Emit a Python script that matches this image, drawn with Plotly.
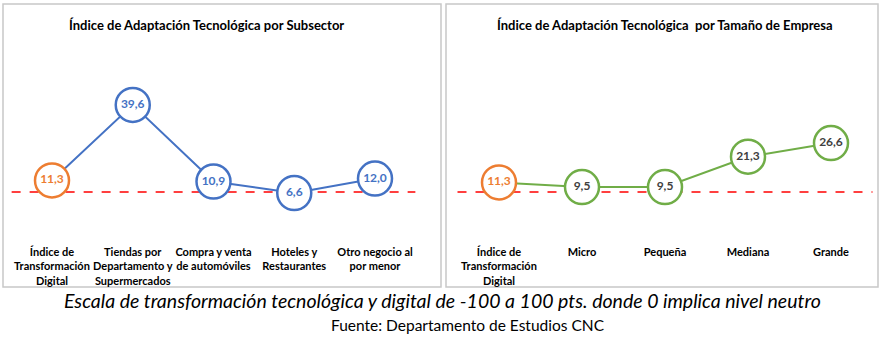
import plotly.graph_objects as go

W, H = 884, 351

# ---- data ----
left_categories = ["Índice de<br>Transformación<br>Digital", "Tiendas por<br>Departamento y<br>Supermercados",
                   "Compra y venta<br>de automóviles", "Hoteles y<br>Restaurantes", "Otro negocio al<br>por menor"]
left_values = [11.3, 39.6, 10.9, 6.6, 12.0]
right_categories = ["Índice de<br>Transformación<br>Digital", "Micro", "Pequeña", "Mediana", "Grande"]
right_values = [11.3, 9.5, 9.5, 21.3, 26.6]
left_reference = 7.0
right_reference = 7.6

left_title = "Índice de Adaptación Tecnológica por Subsector"
right_title = "Índice de Adaptación Tecnológica  por Tamaño de Empresa"
caption = "Escala de transformación tecnológica y digital de -100 a 100 pts. donde 0 implica nivel neutro"
source = "Fuente: Departamento de Estudios CNC"

ORANGE = "#ED7D31"
BLUE = "#4472C4"
GREEN = "#70AD47"
DARK = "#404040"
FONT = "Lato"


def fmt(v):
    return f"{v:.1f}".replace(".", ",")


def px_x(p):
    return p / W


def px_y(p):
    return 1 - p / H


fig = go.Figure()


def add_panel(values, ref, line_color, text_color, xa, ya):
    n = len(values)
    idx = list(range(n))
    fig.add_trace(go.Scatter(x=[-0.5, n - 0.5], y=[ref, ref], mode="lines",
                             line=dict(color="#FF0000", width=1.5, dash="dash"),
                             xaxis=xa, yaxis=ya, hoverinfo="skip", showlegend=False))
    fig.add_trace(go.Scatter(x=idx, y=values, mode="lines",
                             line=dict(color=line_color, width=2),
                             xaxis=xa, yaxis=ya, showlegend=False))
    mcolors = [ORANGE] + [line_color] * (n - 1)
    tcolors = [ORANGE] + [text_color] * (n - 1)
    fig.add_trace(go.Scatter(x=idx, y=values, mode="markers+text",
                             text=[fmt(v) for v in values], textposition="middle center",
                             textfont=dict(family=FONT, size=12, color=tcolors, weight="bold"),
                             marker=dict(size=34, color="white", line=dict(color=mcolors, width=2.5)),
                             xaxis=xa, yaxis=ya, showlegend=False, cliponaxis=False))


add_panel(left_values, left_reference, BLUE, BLUE, "x", "y")
add_panel(right_values, right_reference, GREEN, DARK, "x2", "y2")

plot_top, plot_bot = 40, 240
ydom = [px_y(plot_bot), px_y(plot_top)]

axis_common = dict(showgrid=False, zeroline=False, showline=False, ticks="",
                   tickfont=dict(family=FONT, size=11, color="#000000", weight="bold"))

fig.update_layout(
    width=W, height=H,
    margin=dict(l=0, r=0, t=0, b=0),
    paper_bgcolor="white", plot_bgcolor="white",
    xaxis=dict(domain=[0, px_x(440)], range=[-52 / 80.75, (440 - 52) / 80.75],
               tickmode="array", tickvals=list(range(5)), ticktext=left_categories,
               ticklabelstandoff=4, anchor="y", **axis_common),
    yaxis=dict(domain=ydom, range=[-11.0, 63.9], showticklabels=False, anchor="x", **axis_common),
    xaxis2=dict(domain=[px_x(444), 1], range=[(444 - 499) / 83, (884 - 499) / 83],
                tickmode="array", tickvals=list(range(5)), ticktext=right_categories,
                ticklabelstandoff=4, anchor="y2", **axis_common),
    yaxis2=dict(domain=ydom, range=[-11.1, 66.7], showticklabels=False, anchor="x2", **axis_common),
    showlegend=False,
)

# panel frames
for x0, x1 in [(3, 441), (446, 878)]:
    fig.add_shape(type="rect", xref="paper", yref="paper",
                  x0=px_x(x0), x1=px_x(x1), y0=px_y(287), y1=px_y(4),
                  line=dict(color="#C8C8C8", width=1.5), fillcolor="rgba(0,0,0,0)", layer="below")

ann = dict(xref="paper", yref="paper", showarrow=False, xanchor="center", yanchor="middle")
fig.add_annotation(text=f"<b>{left_title}</b>", x=px_x(206), y=px_y(25),
                   font=dict(family=FONT, size=13, color="#000000"), **ann)
fig.add_annotation(text=f"<b>{right_title}</b>", x=px_x(665), y=px_y(25),
                   font=dict(family=FONT, size=13, color="#000000"), **ann)
fig.add_annotation(text=f"<i>{caption}</i>", x=px_x(442), y=px_y(300),
                   font=dict(family=FONT, size=19.5, color="#000000"), **ann)
fig.add_annotation(text=source, x=px_x(468), y=px_y(325),
                   font=dict(family=FONT, size=15.5, color="#000000"), **ann)

fig.write_html("out.html")
